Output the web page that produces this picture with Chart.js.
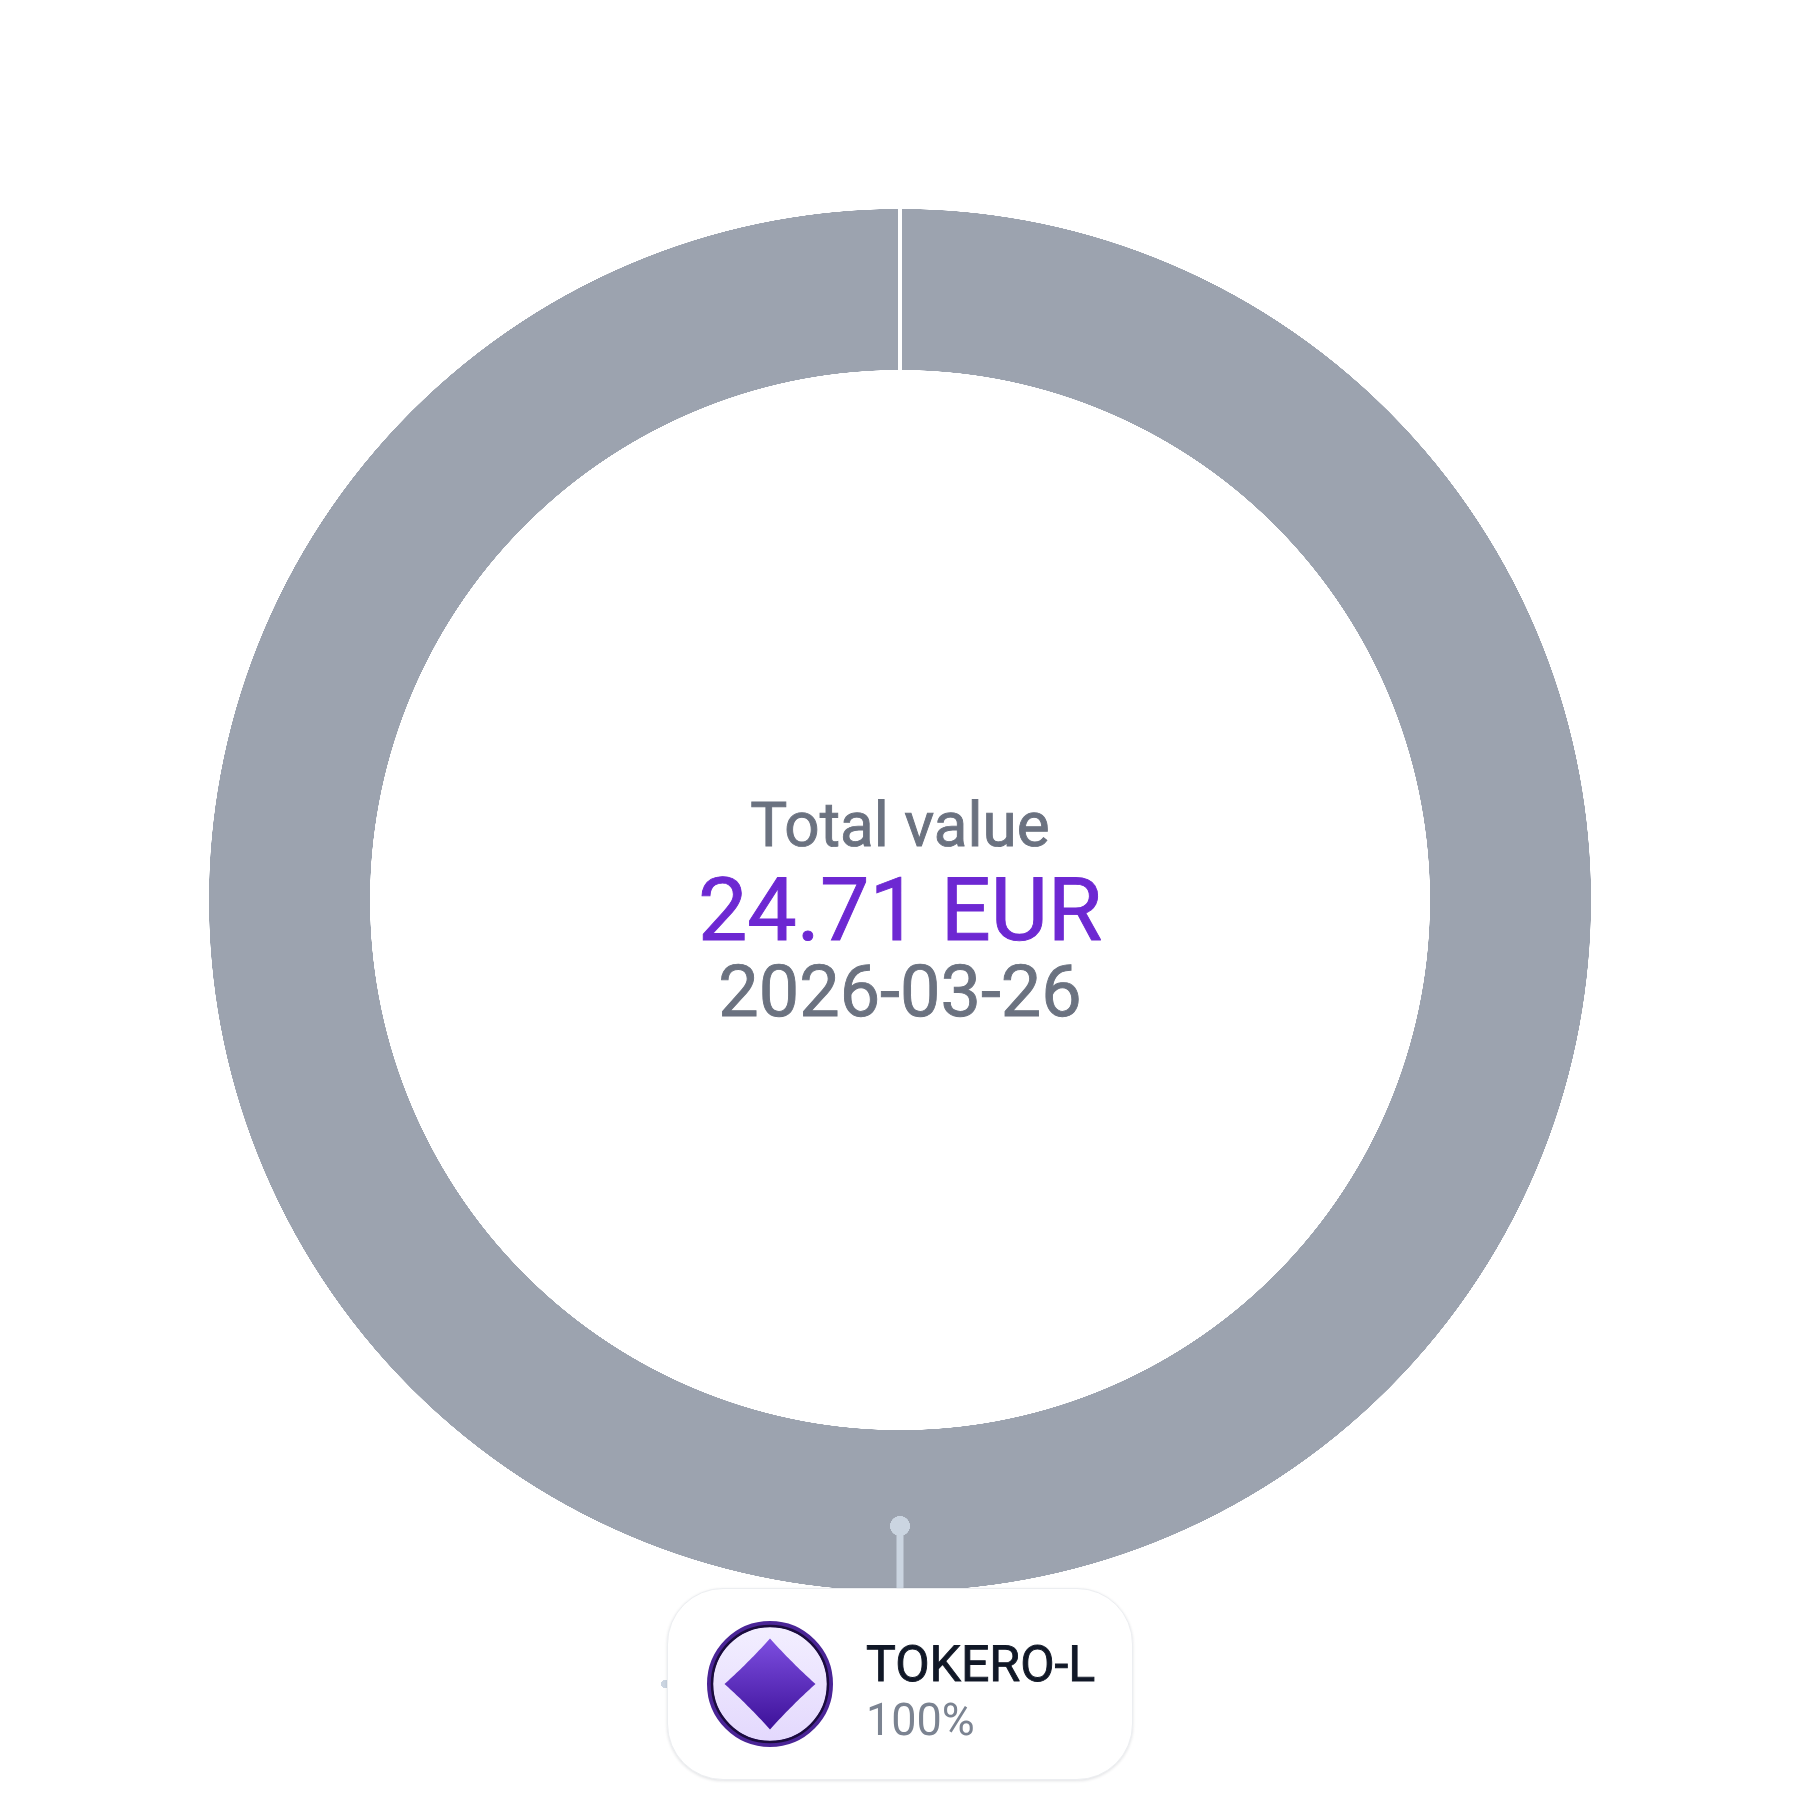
<!DOCTYPE html>
<html>
<head>
<meta charset="utf-8">
<script src="https://cdn.jsdelivr.net/npm/chart.js@4/dist/chart.umd.min.js"></script>
<style>
html,body{margin:0;padding:0;background:#fff}
#wrap{position:relative;width:1800px;height:1800px;overflow:hidden}
canvas{display:block}
.t{position:absolute;line-height:0;white-space:nowrap;font-family:Roboto,sans-serif;font-weight:400;text-rendering:geometricPrecision;filter:blur(0.35px);-webkit-text-stroke:0.9px currentColor}
.c{left:0;width:1800px;text-align:center}
#card{position:absolute;left:667px;top:1588px;width:466px;height:192px;box-sizing:border-box;border-radius:56px;background:#fff;border:1px solid #eceef1;box-shadow:0 1px 3px rgba(15,23,42,.12)}
#icon{position:absolute;left:704px;top:1618px;width:132px;height:132px;filter:blur(0.4px)}
</style>
</head>
<body>
<div id="wrap">
<canvas id="c"></canvas>
<div id="card"></div>
<svg id="icon" viewBox="-66 -66 132 132">
  <defs>
    <linearGradient id="bg" x1="0" y1="0" x2="0" y2="1"><stop offset="0" stop-color="#f3efff"/><stop offset="1" stop-color="#e3d8fd"/></linearGradient>
    <linearGradient id="dm" x1="0" y1="0" x2="0" y2="1"><stop offset="0" stop-color="#7d4ee0"/><stop offset="1" stop-color="#3d1199"/></linearGradient>
  </defs>
  <circle r="60" fill="url(#bg)"/>
  <circle r="60" fill="none" stroke="#4a2496" stroke-width="6"/>
  <circle r="58" fill="none" stroke="#1a0b3d" stroke-width="2.5"/>
  <path id="gem" fill="url(#dm)"/>
</svg>
<div class="t c" id="tTitle" style="font-size:62px;color:#6b7280"></div>
<div class="t c" id="tValue" style="font-size:88px;color:#6d28d2"></div>
<div class="t c" id="tDate" style="font-size:72px;color:#6b7280"></div>
<div class="t" id="tName" style="left:866px;font-size:50px;color:#111827"></div>
<div class="t" id="tShare" style="left:866px;font-size:45px;color:#7b8391;-webkit-text-stroke:0"></div>
</div>
<script>
const categories = ["TOKERO-L"];
const values = [24.71];
const shares = ["100%"];
const centerTitle = "Total value";
const centerValue = "24.71 EUR";
const centerDate = "2026-03-26";

function place(id, text, baseline) {
  const el = document.getElementById(id);
  el.textContent = text;
  el.style.top = (baseline - 0.3415 * parseFloat(el.style.fontSize)) + "px";
}
place("tTitle", centerTitle, 847);
place("tValue", centerValue, 941);
place("tDate", centerDate, 1017);
place("tName", categories[0], 1682);
place("tShare", shares[0], 1735);

// token icon outline: four concave curved sides, one per quadrant
(function () {
  const d = 45.5, q = 21.5, pts = [];
  [[1, -1], [1, 1], [-1, 1], [-1, -1]].forEach(([sx, sy], i) => {
    const a = i % 2 === 0 ? [0, sy * d] : [sx * d, 0];
    const b = i % 2 === 0 ? [sx * d, 0] : [0, sy * d];
    const c = [sx * q, sy * q];
    for (let k = 0; k < 24; k++) {
      const u = k / 24, v = 1 - u;
      pts.push((v * v * a[0] + 2 * u * v * c[0] + u * u * b[0]).toFixed(2) + " " +
               (v * v * a[1] + 2 * u * v * c[1] + u * u * b[1]).toFixed(2));
    }
  });
  document.getElementById("gem").setAttribute("d", "M" + pts.join("L") + "Z");
})();

const overlay = {
  id: "overlay",
  afterDatasetsDraw(chart) {
    const ctx = chart.ctx;
    const arc = chart.getDatasetMeta(0).data[0];
    const cx = arc.x, cy = arc.y;
    ctx.save();
    ctx.fillStyle = "#cbd5e1";
    ctx.strokeStyle = "#cbd5e1";
    ctx.lineWidth = 7;
    ctx.beginPath(); ctx.moveTo(cx, cy + 626); ctx.lineTo(cx, cy + 690); ctx.stroke();
    ctx.beginPath(); ctx.arc(cx, cy + 626, 10, 0, Math.PI * 2); ctx.fill();
    ctx.beginPath(); ctx.arc(cx - 235, cy + 784, 4, 0, Math.PI * 2); ctx.fill();
    ctx.restore();
  }
};

new Chart(document.getElementById("c"), {
  type: "doughnut",
  data: {
    labels: categories,
    datasets: [{
      data: values,
      backgroundColor: ["#9ca3af"],
      hoverBackgroundColor: ["#9ca3af"],
      borderColor: "#ffffff",
      borderWidth: 4
    }]
  },
  options: {
    responsive: true,
    maintainAspectRatio: true,
    aspectRatio: 1,
    devicePixelRatio: 3,
    animation: false,
    cutout: "76.2%",
    layout: { padding: 205 },
    plugins: { legend: { display: false }, tooltip: { enabled: false } }
  },
  plugins: [overlay]
});
</script>
</body>
</html>
